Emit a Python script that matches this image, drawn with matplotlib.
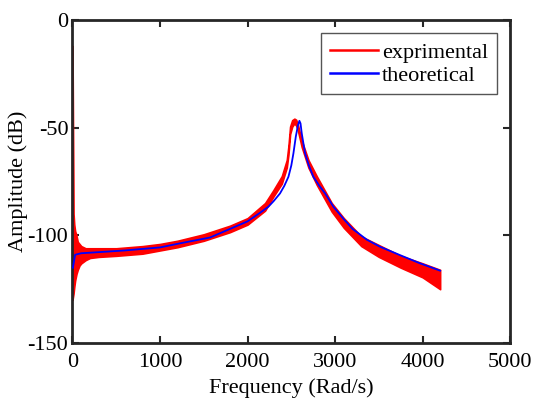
import matplotlib
matplotlib.use("Agg")
import matplotlib.pyplot as plt
from matplotlib.lines import Line2D

# theoretical curve
theo_freq = [5, 30, 100, 300, 600, 1000, 1229, 1571, 1800, 2000, 2143, 2238, 2300,
             2371, 2420, 2467, 2500, 2524, 2551, 2575, 2592, 2605, 2619, 2657, 2700,
             2752, 2820, 2886, 2981, 3100, 3200, 3362, 3514, 3743, 3971, 4200]
theo_amp = [-115, -109, -108.3, -107.8, -107, -105.6, -103.7, -101, -97, -93.5,
            -89.5, -86.7, -84, -80.5, -77, -72.8, -67.5, -61.9, -54.2, -49, -46.8,
            -48, -52.6, -61.9, -67.5, -72.8, -77, -80.5, -86.7, -92.5, -97, -102,
            -105.3, -109.2, -113, -116.4]

# experimental data: noisy band given by its upper and lower envelope
exp_freq = [0, 12, 20, 30, 45, 60, 80, 100, 150, 200, 300, 500, 800, 1000, 1200,
            1500, 1800, 2000, 2200, 2295, 2391, 2448, 2467, 2486, 2510, 2535, 2555,
            2573, 2619, 2695, 2790, 2962, 3100, 3300, 3500, 3750, 4000, 4200]
exp_upper = [-12, -90, -95, -98, -100, -103, -104, -105, -106, -106, -106, -106,
             -105, -104, -102.5, -99.5, -95.5, -92, -85, -79, -72.5, -65, -58.5,
             -49.5, -46.5, -45.8, -46.3, -48.3, -56, -65, -72.5, -85, -92, -100.5,
             -104.5, -109.5, -113, -116]
exp_lower = [-130, -127, -124, -121, -118, -116, -114, -113, -111.5, -110.5, -110,
             -109.5, -108.5, -107, -105.5, -102.5, -98.5, -95, -88.5, -82, -76,
             -68.5, -62.5, -53, -49.5, -48, -49, -51, -59, -68.5, -76.5, -89, -96.5,
             -105, -110, -115, -119.5, -125]

plt.rcParams["font.family"] = ["Liberation Serif", "DejaVu Serif"]
plt.rcParams["font.size"] = 16
plt.rcParams["axes.unicode_minus"] = False

fig = plt.figure(figsize=(5.37, 4.01), dpi=100)
ax = fig.add_axes([0.135, 0.1446, 0.815, 0.8054])

ax.fill_between(exp_freq, exp_lower, exp_upper, color="#ff0000", lw=1.2,
                edgecolor="#ff0000", zorder=2)
ax.plot(theo_freq, theo_amp, color="#0000ff", lw=1.3, zorder=3)

ax.set_xlim(0, 5000)
ax.set_ylim(-150, 0)
ax.set_xticks([0, 1000, 2000, 3000, 4000, 5000])
ax.set_yticks([0, -50, -100, -150])
ax.tick_params(direction="in", top=True, right=True, length=5, width=1.5,
               color="#262626", labelcolor="black")
ax.tick_params(axis="x", pad=7)
ax.tick_params(axis="y", pad=3)
for s in ax.spines.values():
    s.set_linewidth(2)
    s.set_color("#262626")
ax.set_xlabel("Frequency (Rad/s)", labelpad=5)
ax.set_ylabel("Amplitude (dB)", labelpad=0)

handles = [Line2D([], [], color="#ff0000", lw=1.8),
           Line2D([], [], color="#0000ff", lw=1.8)]
leg = ax.legend(handles, ["exprimental", "theoretical"], loc="upper right",
                fancybox=False, framealpha=1, edgecolor="#555555",
                handlelength=2.2, handletextpad=0.15, labelspacing=0.1,
                borderpad=0.4, borderaxespad=0.6)
leg.get_frame().set_linewidth(1)

fig.savefig("out.png", dpi=100)
